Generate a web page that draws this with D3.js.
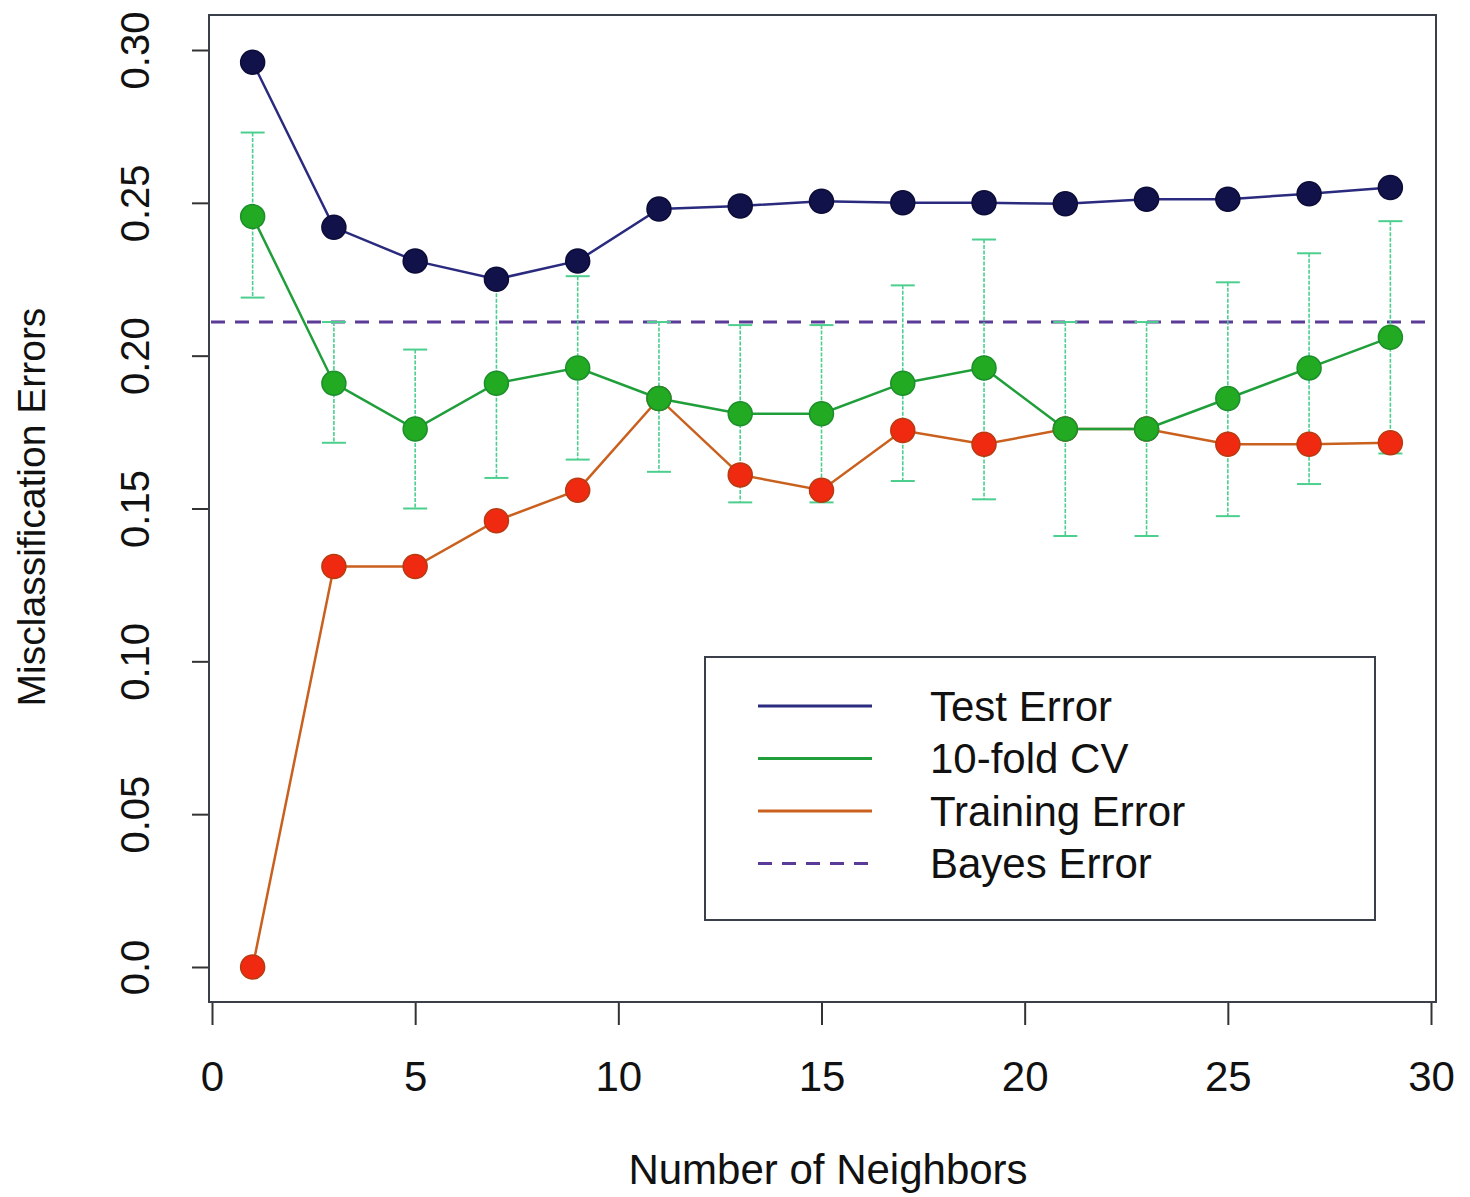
<!DOCTYPE html>
<html>
<head>
<meta charset="utf-8">
<script src="https://cdn.jsdelivr.net/npm/d3@7"></script>
<style>
  body { margin: 0; background: #fff; }
  text { font-family: "Liberation Sans", Arial, sans-serif; fill: #111; }
</style>
</head>
<body>
<svg id="chart"></svg>
<script>
// data
let neighbors = [1, 3, 5, 7, 9, 11, 13, 15, 17, 19, 21, 23, 25, 27, 29];
let testError = [0.296, 0.242, 0.231, 0.225, 0.231, 0.248, 0.249, 0.2505, 0.250, 0.250, 0.2497, 0.2512, 0.2512, 0.253, 0.255];
let cvError   = [0.2455, 0.191, 0.176, 0.191, 0.196, 0.186, 0.181, 0.181, 0.191, 0.196, 0.176, 0.176, 0.186, 0.196, 0.206];
let cvUpper   = [0.273, 0.211, 0.202, 0.224, 0.226, 0.211, 0.210, 0.210, 0.223, 0.238, 0.211, 0.211, 0.224, 0.2335, 0.244];
let cvLower   = [0.219, 0.1715, 0.150, 0.160, 0.166, 0.162, 0.152, 0.152, 0.159, 0.153, 0.141, 0.141, 0.1475, 0.158, 0.168];
let trainError = [0.0, 0.131, 0.131, 0.146, 0.156, 0.186, 0.161, 0.156, 0.1755, 0.171, 0.176, 0.176, 0.171, 0.171, 0.1715];
let bayesError = 0.211;
let xTicks = [0, 5, 10, 15, 20, 25, 30];
let yTicks = [0, 0.05, 0.10, 0.15, 0.20, 0.25, 0.30];
let yTickLabels = ["0.0", "0.05", "0.10", "0.15", "0.20", "0.25", "0.30"];
let legendLabels = ["Test Error", "10-fold CV", "Training Error", "Bayes Error"];

let width = 1470, height = 1197;
let box = {left: 209, top: 15, right: 1436, bottom: 1002};

let svg = d3.select("#chart")
    .attr("width", width)
    .attr("height", height);

let x = d3.scaleLinear().domain([0, 30]).range([212, 1431]);
let y = d3.scaleLinear().domain([0, 0.30]).range([967, 50]);

let colors = {
    test: "#2a2a7e", testPt: "#12124a",
    cv: "#1f9e3a", cvPt: "#22aa22", bar: "#4ccf8e",
    train: "#c9601e", trainPt: "#f02a10",
    bayes: "#5a3c98"
};

// plot box
svg.append("rect")
    .attr("x", box.left).attr("y", box.top)
    .attr("width", box.right - box.left).attr("height", box.bottom - box.top)
    .attr("fill", "none").attr("stroke", "#3a3f4a").attr("stroke-width", 2);

// x axis (R style, ticks below the box)
let xAxis = svg.append("g")
    .attr("transform", "translate(0," + (box.bottom + 1) + ")")
    .call(d3.axisBottom(x).tickValues(xTicks).tickSize(22).tickPadding(36).tickSizeOuter(0));
xAxis.select(".domain").remove();
xAxis.selectAll("line").attr("stroke", "#333").attr("stroke-width", 2);
xAxis.selectAll("text").attr("font-size", 42).attr("fill", "#111");

// y axis with rotated labels
let yAxis = svg.append("g")
    .attr("transform", "translate(" + (box.left - 1) + ",0)")
    .call(d3.axisLeft(y).tickValues(yTicks).tickSize(16).tickSizeOuter(0)
        .tickFormat((d, i) => yTickLabels[i]));
yAxis.select(".domain").remove();
yAxis.selectAll("line").attr("stroke", "#333").attr("stroke-width", 2);
yAxis.selectAll("text")
    .attr("font-size", 40).attr("fill", "#111")
    .attr("text-anchor", "middle")
    .attr("x", 0).attr("y", 0)
    .attr("dy", "0.35em")
    .attr("transform", "translate(" + (135 - box.left + 1) + ",0) rotate(-90)");

// axis titles
svg.append("text")
    .attr("x", 828).attr("y", 1184)
    .attr("text-anchor", "middle").attr("font-size", 42)
    .text("Number of Neighbors");
svg.append("text")
    .attr("transform", "translate(45,507) rotate(-90)")
    .attr("text-anchor", "middle").attr("font-size", 39)
    .text("Misclassification Errors");

// bayes error line
svg.append("line")
    .attr("x1", box.left + 2).attr("x2", box.right - 8)
    .attr("y1", y(bayesError)).attr("y2", y(bayesError))
    .attr("stroke", colors.bayes).attr("stroke-width", 3)
    .attr("stroke-dasharray", "14,10");

// CV error bars
let bars = svg.append("g").attr("class", "errorbars");
neighbors.forEach((k, i) => {
    let g = bars.append("g");
    g.append("line")
        .attr("x1", x(k)).attr("x2", x(k))
        .attr("y1", y(cvUpper[i])).attr("y2", y(cvLower[i]))
        .attr("stroke", colors.bar).attr("stroke-width", 1.6)
        .attr("stroke-dasharray", "4,1.5");
    [cvUpper[i], cvLower[i]].forEach(v => {
        g.append("line")
            .attr("x1", x(k) - 12).attr("x2", x(k) + 12)
            .attr("y1", y(v)).attr("y2", y(v))
            .attr("stroke", colors.bar).attr("stroke-width", 2);
    });
});

let line = d3.line().x(d => x(d[0])).y(d => y(d[1]));

let series = [
    {vals: trainError, line: colors.train, pt: colors.trainPt, ptStroke: "#b83a10"},
    {vals: cvError, line: colors.cv, pt: colors.cvPt, ptStroke: "#1c8e2c"},
    {vals: testError, line: colors.test, pt: colors.testPt, ptStroke: "#0c0c38"}
];

series.forEach(s => {
    let pts = neighbors.map((k, i) => [k, s.vals[i]]);
    svg.append("path")
        .attr("d", line(pts))
        .attr("fill", "none").attr("stroke", s.line).attr("stroke-width", 2.5);
    svg.append("g").selectAll("circle")
        .data(pts).enter()
        .append("circle")
            .attr("cx", d => x(d[0])).attr("cy", d => y(d[1]))
            .attr("r", 12)
            .attr("fill", s.pt).attr("stroke", s.ptStroke).attr("stroke-width", 1.5);
});

// legend
let legend = svg.append("g").attr("transform", "translate(705,657)");
legend.append("rect")
    .attr("width", 670).attr("height", 263)
    .attr("fill", "#fff").attr("stroke", "#3a3f4a").attr("stroke-width", 2);
let legendStyles = [
    {color: colors.test, dash: null},
    {color: colors.cv, dash: null},
    {color: colors.train, dash: null},
    {color: colors.bayes, dash: "14,10"}
];
legendLabels.forEach((lab, i) => {
    let yy = 49 + i * 52.5;
    legend.append("line")
        .attr("x1", 53).attr("x2", 167).attr("y1", yy).attr("y2", yy)
        .attr("stroke", legendStyles[i].color).attr("stroke-width", 3)
        .attr("stroke-dasharray", legendStyles[i].dash);
    legend.append("text")
        .attr("x", 225).attr("y", yy).attr("dy", "0.35em")
        .attr("font-size", 42)
        .text(lab);
});
</script>
</body>
</html>
